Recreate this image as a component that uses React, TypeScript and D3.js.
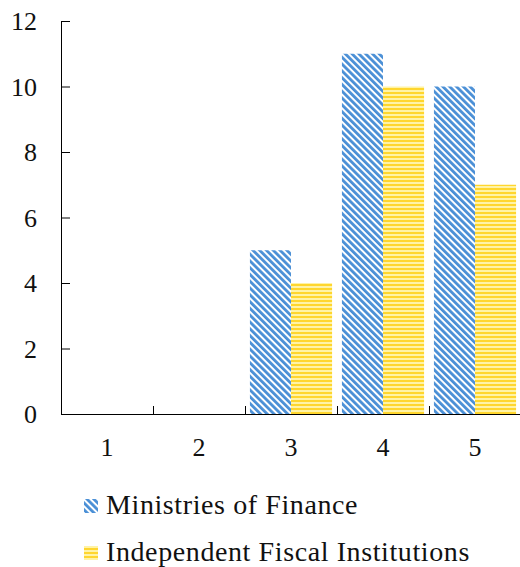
import React, { useEffect, useRef } from 'react';
import * as d3 from 'd3';

const categories = ['1', '2', '3', '4', '5'];
const seriesNames = ['Ministries of Finance', 'Independent Fiscal Institutions'];
const ministries = [0, 0, 5, 11, 10];
const ifis = [0, 0, 4, 10, 7];
const yTicks = [0, 2, 4, 6, 8, 10, 12];

const App = () => {
  const ref = useRef<SVGSVGElement>(null);

  useEffect(() => {
    document.body.style.margin = '0';
    const svg = d3.select(ref.current);
    svg.selectAll('*').remove();

    const font = 'Liberation Serif, DejaVu Serif, serif';
    const left = 61, right = 521, top = 21, bottom = 414;

    const defs = svg.append('defs');
    const pBlue = defs.append('pattern')
      .attr('id', 'pBlue').attr('patternUnits', 'userSpaceOnUse')
      .attr('width', 4.8).attr('height', 4.8)
      .attr('patternTransform', 'rotate(-45)');
    pBlue.append('rect').attr('width', 4.8).attr('height', 4.8).attr('fill', '#ffffff');
    pBlue.append('rect').attr('width', 2.8).attr('height', 4.8).attr('fill', '#4a8fd6');

    const pYellow = defs.append('pattern')
      .attr('id', 'pYellow').attr('patternUnits', 'userSpaceOnUse')
      .attr('width', 4).attr('height', 4);
    pYellow.append('rect').attr('width', 4).attr('height', 4).attr('fill', '#fff3a6');
    pYellow.append('rect').attr('width', 4).attr('height', 2).attr('fill', '#ffd62e');

    const fills = ['url(#pBlue)', 'url(#pYellow)'];

    const x = d3.scaleBand().domain(categories).range([left, right]).paddingInner(0).paddingOuter(0);
    const xs = d3.scaleBand().domain(seriesNames).range([0, x.bandwidth()]).paddingInner(0).paddingOuter(0.12);
    const y = d3.scaleLinear().domain([0, 12]).range([bottom, top]);

    const rows = categories.map((c, i) => ({ c, vals: [ministries[i], ifis[i]] }));

    const g = svg.append('g');
    g.selectAll('g.cat').data(rows).enter().append('g')
      .attr('transform', d => `translate(${x(d.c)},0)`)
      .selectAll('rect').data(d => d.vals.map((v, k) => ({ v, k })))
      .enter().append('rect')
      .attr('x', d => xs(seriesNames[d.k]) ?? 0)
      .attr('width', xs.bandwidth())
      .attr('y', d => y(d.v))
      .attr('height', d => bottom - y(d.v))
      .attr('fill', d => fills[d.k]);

    // y axis
    const yAxis = svg.append('g').attr('transform', `translate(${left},0)`)
      .call(d3.axisRight(y).tickValues(yTicks).tickSize(9).tickFormat(() => ''));
    yAxis.select('.domain').attr('d', `M0.5,${top}V${bottom}`).attr('stroke', '#000');
    yAxis.selectAll('.tick line').attr('stroke', '#000');

    svg.append('g').selectAll('text').data(yTicks).enter().append('text')
      .attr('x', 37).attr('y', d => y(d)).attr('dy', '0.35em')
      .attr('text-anchor', 'end').style('font-family', font).attr('font-size', 26)
      .attr('fill', '#111').text(d => d);

    // x axis
    svg.append('line').attr('x1', left).attr('x2', right).attr('y1', bottom + 0.5).attr('y2', bottom + 0.5)
      .attr('stroke', '#000');
    svg.append('g').selectAll('line').data(categories.slice(1)).enter().append('line')
      .attr('x1', d => (x(d) ?? 0) + 0.5).attr('x2', d => (x(d) ?? 0) + 0.5)
      .attr('y1', bottom).attr('y2', bottom - 8).attr('stroke', '#000');

    svg.append('g').selectAll('text').data(categories).enter().append('text')
      .attr('x', d => (x(d) ?? 0) + x.bandwidth() / 2).attr('y', 456)
      .attr('text-anchor', 'middle').style('font-family', font).attr('font-size', 26)
      .attr('fill', '#111').text(d => d);

    // legend
    const legY = [499, 546];
    const leg = svg.append('g');
    seriesNames.forEach((name, k) => {
      leg.append('rect').attr('x', 84).attr('y', legY[k]).attr('width', 14).attr('height', 14)
        .attr('fill', fills[k]);
      leg.append('text').attr('x', 106).attr('y', legY[k] + 15)
        .style('font-family', font).attr('font-size', 28).attr('letter-spacing', 0.6)
        .attr('fill', '#111').text(name);
    });
  }, []);

  return <svg ref={ref} width={520} height={567} style={{ display: 'block' }} />;
};

export default App;
